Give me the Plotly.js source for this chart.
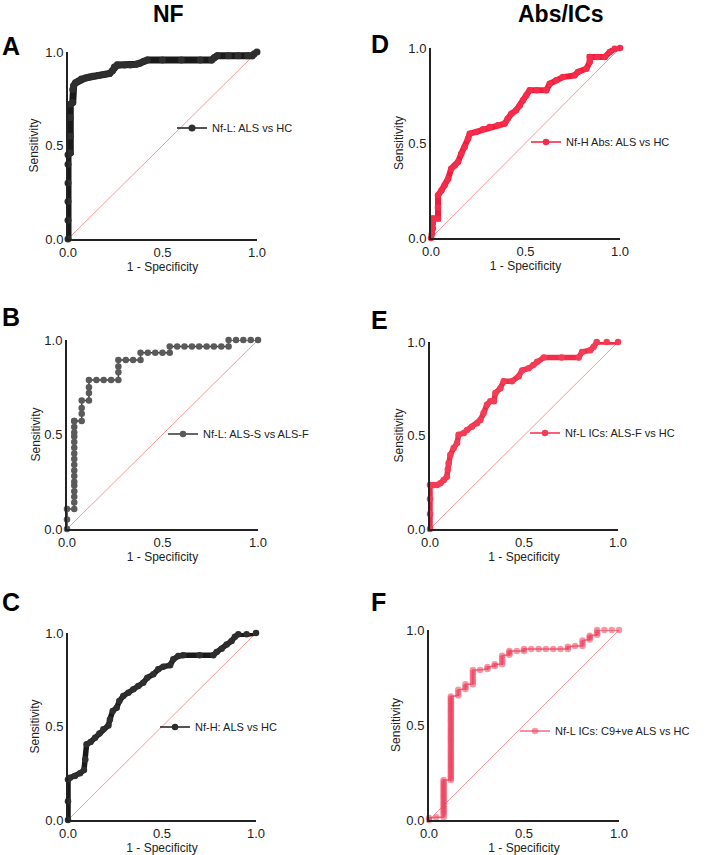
<!DOCTYPE html>
<html>
<head>
<meta charset="utf-8">
<script src="https://cdn.plot.ly/plotly-3.0.1.min.js"></script>
<style>html,body{margin:0;padding:0;background:#fff;}#chart{width:709px;height:855px;}</style>
</head>
<body>
<div id="chart"></div>
<script>
// ---------- data ----------
const panelLetters = ['A', 'B', 'C', 'D', 'E', 'F'];
const columnTitles = ['NF', 'Abs/ICs'];
const seriesNames = ['Nf-L: ALS vs HC', 'Nf-L: ALS-S vs ALS-F', 'Nf-H: ALS vs HC',
                     'Nf-H Abs: ALS vs HC', 'Nf-L ICs: ALS-F vs HC', 'Nf-L ICs: C9+ve ALS vs HC'];
const tickVals = [0, 0.5, 1];
const tickText = ['0.0', '0.5', '1.0'];
const xTitle = '1 - Specificity';
const yTitle = 'Sensitivity';
const refX = [0, 1];
const refY = [0, 1];

const aX = [0,0,0,0,0,0,0.012,0.012,0.012,0.012,0.025,0.025,0.03,0.04,0.055,0.07,0.09,0.11,0.13,0.16,0.19,0.22,0.235,0.245,0.26,0.27,0.3,0.33,0.36,0.38,0.4,0.42,0.5,0.6,0.7,0.76,0.775,0.79,0.85,0.9,0.95,0.975,0.985,1];
const aY = [0,0.1,0.2,0.3,0.4,0.45,0.46,0.55,0.65,0.72,0.73,0.8,0.82,0.835,0.845,0.855,0.86,0.865,0.87,0.875,0.88,0.885,0.9,0.92,0.93,0.93,0.93,0.93,0.935,0.94,0.95,0.957,0.957,0.957,0.957,0.957,0.97,0.98,0.98,0.98,0.98,0.98,0.99,1];

const bX = [0,0,0,0.038,0.038,0.038,0.038,0.038,0.038,0.038,0.038,0.038,0.038,0.038,0.038,0.038,0.038,0.038,0.038,0.038,0.038,
            0.077,0.077,0.077,0.077,0.115,0.115,0.115,0.115,0.154,0.192,0.231,0.269,0.269,0.269,0.269,0.308,0.346,0.385,0.385,
            0.423,0.462,0.5,0.538,0.538,0.577,0.615,0.654,0.692,0.731,0.769,0.808,0.846,0.846,0.885,0.923,0.962,1];
const bY = [0,0.05,0.106,0.106,0.14,0.17,0.2,0.23,0.25,0.28,0.31,0.34,0.37,0.4,0.43,0.46,0.49,0.51,0.54,0.572,0.572,
            0.572,0.61,0.64,0.68,0.68,0.72,0.75,0.789,0.789,0.789,0.789,0.789,0.83,0.86,0.894,0.894,0.894,0.894,0.933,
            0.933,0.933,0.933,0.933,0.965,0.965,0.965,0.965,0.965,0.965,0.965,0.965,0.965,1,1,1,1,1];

const cX = [0,0,0,0.011,0.037,0.064,0.085,0.092,0.099,0.12,0.144,0.167,0.188,0.215,0.223,0.238,0.259,0.273,0.294,0.321,0.348,0.374,0.4,0.422,0.454,0.48,0.507,0.543,0.56,0.587,0.613,0.7,0.773,0.791,0.817,0.844,0.87,0.888,0.906,0.95,1];
const cY = [0,0.1,0.217,0.226,0.235,0.25,0.267,0.324,0.405,0.417,0.44,0.463,0.485,0.506,0.538,0.583,0.6,0.636,0.663,0.681,0.699,0.717,0.734,0.761,0.779,0.806,0.82,0.827,0.859,0.877,0.881,0.881,0.881,0.898,0.916,0.939,0.957,0.98,0.993,0.993,1];

const dX = [0,0.004,0.01,0.01,0.01,0.037,0.037,0.037,0.055,0.072,0.09,0.107,0.125,0.143,0.16,0.178,0.196,0.205,0.24,0.275,0.31,0.354,0.39,0.406,0.425,0.45,0.47,0.487,0.504,0.522,0.56,0.61,0.628,0.663,0.698,0.76,0.778,0.822,0.84,0.84,0.88,0.92,0.946,0.972,1];
const dY = [0,0.02,0.05,0.08,0.102,0.102,0.16,0.225,0.25,0.277,0.31,0.365,0.382,0.4,0.444,0.479,0.523,0.549,0.558,0.572,0.584,0.593,0.602,0.628,0.654,0.672,0.698,0.725,0.75,0.777,0.777,0.777,0.812,0.83,0.847,0.856,0.874,0.891,0.926,0.953,0.953,0.953,0.979,0.996,1];

const eX = [0,0,0,0,0.02,0.037,0.055,0.073,0.09,0.095,0.099,0.108,0.126,0.144,0.152,0.18,0.197,0.223,0.25,0.268,0.285,0.303,0.321,0.34,0.348,0.374,0.392,0.436,0.472,0.49,0.525,0.55,0.57,0.605,0.7,0.791,0.809,0.853,0.87,0.887,0.94,1];
const eY = [0,0.08,0.16,0.235,0.235,0.235,0.244,0.262,0.28,0.32,0.351,0.396,0.433,0.46,0.504,0.513,0.529,0.547,0.565,0.583,0.62,0.665,0.683,0.683,0.727,0.753,0.79,0.79,0.817,0.848,0.859,0.877,0.894,0.917,0.917,0.917,0.947,0.956,0.973,1,1,1];

const fX = [0,0,0.038,0.077,
  0.077,0.077,0.077,0.077,0.077,0.077,0.077,0.077,0.077,0.077,0.077,0.077,0.077,0.077,0.077,0.077,0.077,0.077,0.077,
  0.115,0.115,0.115,0.115,0.115,0.115,0.115,0.115,0.115,0.115,0.115,0.115,0.115,0.115,0.115,
  0.115,0.115,0.115,0.115,0.115,0.115,0.115,0.115,0.115,0.115,0.115,0.115,0.115,0.115,0.115,
  0.115,0.115,0.115,0.115,0.115,0.115,0.115,0.115,0.115,0.115,0.115,0.115,0.115,0.115,0.115,
  0.154,0.154,0.154,0.192,0.192,0.192,0.231,0.231,0.231,0.231,0.231,0.231,
  0.269,0.308,0.308,0.346,0.346,0.385,0.385,0.385,0.385,0.423,0.423,0.423,0.462,
  0.5,0.5,0.538,0.577,0.615,0.654,0.692,0.731,0.731,0.769,0.808,0.808,0.808,
  0.846,0.846,0.846,0.885,0.885,0.885,0.923,0.962,1];
const fY = [0,0.01,0.014,0.014,
  0.03,0.04,0.05,0.06,0.07,0.08,0.09,0.10,0.11,0.12,0.13,0.14,0.15,0.16,0.17,0.18,0.19,0.20,0.21,
  0.21,0.22,0.23,0.24,0.25,0.26,0.27,0.28,0.29,0.30,0.31,0.32,0.33,0.34,0.35,
  0.36,0.37,0.38,0.39,0.40,0.41,0.42,0.43,0.44,0.45,0.46,0.47,0.48,0.49,0.50,
  0.51,0.52,0.53,0.54,0.55,0.56,0.57,0.58,0.59,0.60,0.61,0.62,0.63,0.64,0.65,
  0.655,0.67,0.685,0.69,0.70,0.715,0.715,0.73,0.745,0.76,0.775,0.79,
  0.79,0.795,0.805,0.81,0.82,0.82,0.835,0.85,0.865,0.87,0.88,0.89,0.89,
  0.89,0.9,0.9,0.9,0.9,0.9,0.9,0.9,0.912,0.916,0.916,0.93,0.945,
  0.95,0.96,0.97,0.975,0.987,1,1,1,1];

// ---------- layout geometry (pixels in a 709 x 855 page) ----------
const W = 709, H = 855;
const px = v => v / W;
const py = v => 1 - v / H;
// [left, right, top, bottom] of each plot area
const boxes = [
  [68, 257, 52, 239], [67, 258, 340, 529], [68, 256, 633, 820],
  [431, 620, 48, 238], [430, 618, 342, 529], [429, 619, 630, 820]
];
// legend text start x and centre y
const legendPos = [[213, 128], [204, 434], [196, 727], [567, 142], [566, 433], [556, 731]];
const letterPos = [[0, 46], [0, 317], [0, 602], [369, 44], [369, 320], [369, 602]];
const yTitleStandoff = [4, 1, 3, 2, 1, 3];

const FONT = 'Liberation Sans, Arial, sans-serif';

const seriesX = [aX, bX, cX, dX, eX, fX];
const seriesY = [aY, bY, cY, dY, eY, fY];
const styles = [
  {thick: 7, thickColor: '#1a1a1a', mColor: '#2e2e2e', mSize: 7, lw: 1.5, lColor: '#444'},
  {thick: 0, thickColor: null, mColor: '#5a5a5a', mSize: 6.5, lw: 1.5, lColor: '#333'},
  {thick: 5.5, thickColor: '#1a1a1a', mColor: '#2e2e2e', mSize: 6.5, lw: 1.5, lColor: '#444'},
  {thick: 6, thickColor: 'rgb(243,28,58)', mColor: 'rgb(244,45,75)', mSize: 6.5, lw: 1.5, lColor: 'rgb(245,90,110)'},
  {thick: 5.5, thickColor: 'rgb(242,45,72)', mColor: 'rgb(243,60,85)', mSize: 6.5, lw: 1.5, lColor: 'rgb(245,95,115)'},
  {thick: 0, thickColor: null, mColor: 'rgba(238,65,92,0.55)', mSize: 6.5, lw: 1.5, lColor: 'rgb(243,110,128)'}
];

const traces = [];
const layout = {
  width: W, height: H,
  margin: {l: 0, r: 0, t: 0, b: 0},
  paper_bgcolor: '#fff', plot_bgcolor: 'rgba(0,0,0,0)',
  font: {family: FONT, color: '#222', size: 12},
  showlegend: true,
  annotations: [],
};

for (let i = 0; i < 6; i++) {
  const n = i + 1;
  const xa = n === 1 ? 'x' : 'x' + n;
  const ya = n === 1 ? 'y' : 'y' + n;
  const lg = n === 1 ? 'legend' : 'legend' + n;
  const b = boxes[i];
  const st = styles[i];

  layout['xaxis' + (n === 1 ? '' : n)] = {
    domain: [px(b[0]), px(b[1])], anchor: ya, range: [0, 1],
    showgrid: false, zeroline: false, showline: true, linecolor: '#222', linewidth: 2,
    ticks: '', tickvals: tickVals, ticktext: tickText,
    tickfont: {family: FONT, size: 13, color: '#222'},
    title: {text: xTitle, font: {family: FONT, size: 12, color: '#222'}, standoff: 2},
    fixedrange: true
  };
  layout['yaxis' + (n === 1 ? '' : n)] = {
    domain: [py(b[3]), py(b[2])], anchor: xa, range: [0, 1],
    showgrid: false, zeroline: false, showline: true, linecolor: '#222', linewidth: 2,
    ticks: '', tickvals: tickVals, ticktext: tickText,
    tickfont: {family: FONT, size: 13, color: '#222'},
    title: {text: yTitle, font: {family: FONT, size: 12, color: '#222'}, standoff: yTitleStandoff[i]},
    fixedrange: true
  };
  layout[lg] = {
    x: px(legendPos[i][0] - 41), y: py(legendPos[i][1]), xanchor: 'left', yanchor: 'middle',
    bgcolor: 'rgba(0,0,0,0)', borderwidth: 0, itemwidth: 30,
    font: {family: FONT, size: 11, color: '#222'}
  };

  // reference diagonal
  traces.push({
    x: refX, y: refY, xaxis: xa, yaxis: ya, mode: 'lines', showlegend: false, hoverinfo: 'skip',
    line: {color: 'rgb(247,150,150)', width: 1}
  });
  if (st.thick > 0) {
    traces.push({
      x: seriesX[i], y: seriesY[i], xaxis: xa, yaxis: ya, mode: 'lines', showlegend: false,
      line: {color: st.thickColor, width: st.thick}, cliponaxis: false
    });
  }
  traces.push({
    x: seriesX[i], y: seriesY[i], xaxis: xa, yaxis: ya, mode: 'lines+markers', name: seriesNames[i],
    legend: lg, cliponaxis: false,
    line: {color: st.thick > 0 ? st.thickColor : st.lColor, width: st.lw},
    marker: {color: st.mColor, size: st.mSize, line: {width: 0}}
  });

  layout.annotations.push({
    xref: 'paper', yref: 'paper', x: px(letterPos[i][0]), y: py(letterPos[i][1]),
    xanchor: 'left', yanchor: 'middle', showarrow: false,
    text: '<b>' + panelLetters[i] + '</b>', font: {family: FONT, size: 25, color: '#000'}
  });
}
layout.annotations.push({
  xref: 'paper', yref: 'paper', x: px(168), y: py(14), xanchor: 'center', yanchor: 'middle', showarrow: false,
  text: '<b>' + columnTitles[0] + '</b>', font: {family: FONT, size: 23, color: '#000'}
});
layout.annotations.push({
  xref: 'paper', yref: 'paper', x: px(561), y: py(14), xanchor: 'center', yanchor: 'middle', showarrow: false,
  text: '<b>' + columnTitles[1] + '</b>', font: {family: FONT, size: 23, color: '#000'}
});

Plotly.newPlot('chart', traces, layout, {staticPlot: true, displayModeBar: false});
</script>
</body>
</html>
